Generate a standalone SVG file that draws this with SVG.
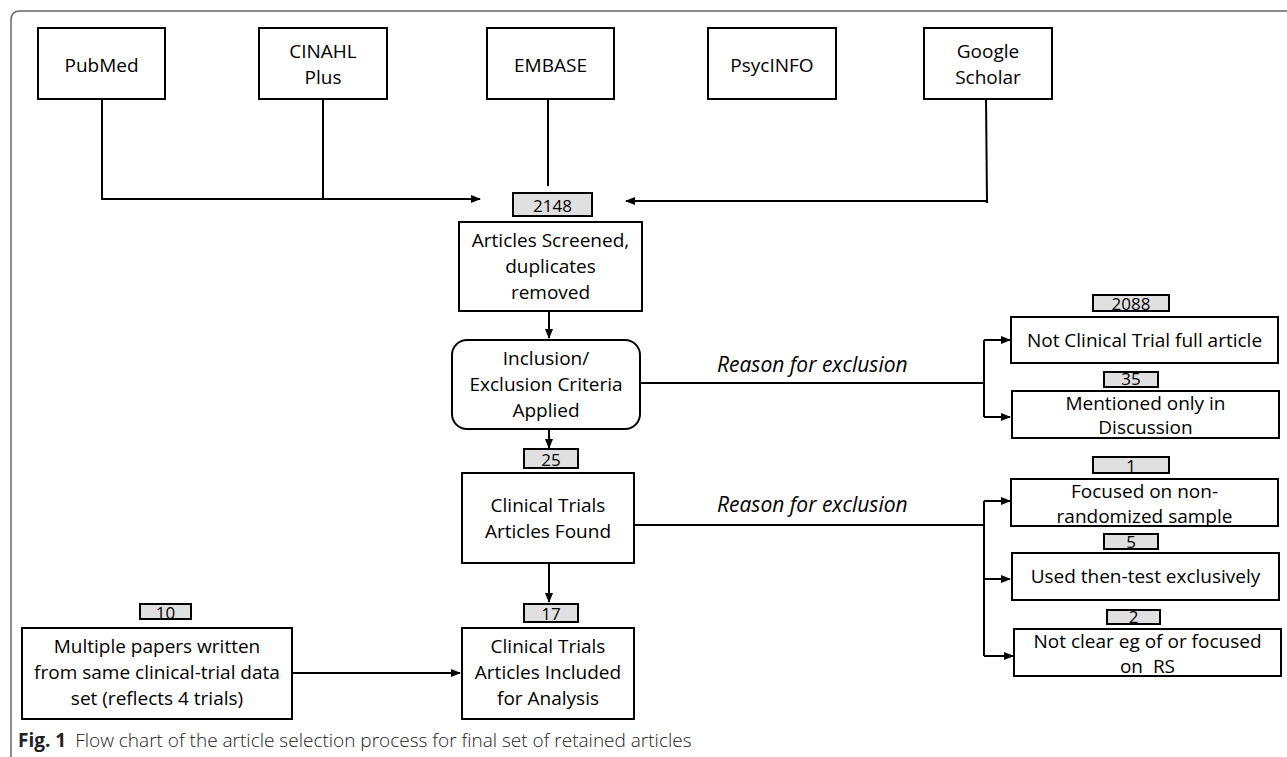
<svg xmlns="http://www.w3.org/2000/svg" width="1287" height="757" viewBox="0 0 1287 757">
<defs>
<marker id="ah" markerWidth="10" markerHeight="8" refX="9" refY="4" orient="auto" markerUnits="userSpaceOnUse">
<path d="M0,0 L10,4 L0,8 Z" fill="#000"/>
</marker>
<style>
.box{fill:#fff;stroke:#000;stroke-width:2}
.num{fill:#e0e0e0;stroke:#000;stroke-width:2}
.t{font-family:"Open Sans","Liberation Sans",sans-serif;font-size:19px;fill:#000;text-anchor:middle}
.n{font-family:"Open Sans","Liberation Sans",sans-serif;font-size:17px;fill:#000;text-anchor:middle}
.r{font-family:"Open Sans","Liberation Sans",sans-serif;font-size:21px;font-style:italic;fill:#000}
.ln{fill:none;stroke:#000;stroke-width:2}
.cap{font-family:"Open Sans","Liberation Sans",sans-serif;font-size:19px;fill:#222}
</style>
</defs>
<rect width="1287" height="757" fill="#fff"/>
<path d="M11,757 L11,20 Q11,11 20,11 L1287,11" fill="none" stroke="#666" stroke-width="1.5"/>

<g id="connectors">
<path class="ln" d="M102,99 V199 H480" marker-end="url(#ah)"/>
<path class="ln" d="M323,99 V199"/>
<path class="ln" d="M548,99 V186"/>
<path class="ln" d="M986,97 L987,203"/>
<path class="ln" d="M987,201 H626" marker-end="url(#ah)"/>
<path class="ln" d="M549,311 V338" marker-end="url(#ah)"/>
<path class="ln" d="M549,429 V448" marker-end="url(#ah)"/>
<path class="ln" d="M549,563 V602" marker-end="url(#ah)"/>
<path class="ln" d="M640,383 H984"/>
<path class="ln" d="M984,340 V417"/>
<path class="ln" d="M984,340 H1010" marker-end="url(#ah)"/>
<path class="ln" d="M984,417 H1010" marker-end="url(#ah)"/>
<path class="ln" d="M634,525 H984"/>
<path class="ln" d="M984,501 V656"/>
<path class="ln" d="M984,501 H1010" marker-end="url(#ah)"/>
<path class="ln" d="M984,579 H1010" stroke-width="3.5" marker-end="url(#ah)"/>
<path class="ln" d="M984,656 H1013" marker-end="url(#ah)"/>
<path class="ln" d="M292,673 H460" marker-end="url(#ah)"/>
<text class="r" x="717" y="372">Reason for exclusion</text>
<text class="r" x="717" y="512">Reason for exclusion</text>
</g>

<g id="pubmed"><rect class="box" x="38" y="28" width="127" height="71"/><text class="t" x="101.5" y="72">PubMed</text></g>
<g id="cinahl"><rect class="box" x="259" y="28" width="128" height="71"/><text class="t" x="323" y="58">CINAHL</text><text class="t" x="323" y="84">Plus</text></g>
<g id="embase"><rect class="box" x="487" y="28" width="127" height="71"/><text class="t" x="550.5" y="72">EMBASE</text></g>
<g id="psycinfo"><rect class="box" x="708" y="28" width="128" height="71"/><text class="t" x="772" y="72">PsycINFO</text></g>
<g id="google"><rect class="box" x="924" y="28" width="128" height="71"/><text class="t" x="988" y="58">Google</text><text class="t" x="988" y="84">Scholar</text></g>

<g id="n2148"><rect class="num" x="513" y="193" width="79" height="23"/><text class="n" x="552.5" y="212">2148</text></g>
<g id="screened"><rect class="box" x="459" y="222" width="183" height="89"/><text class="t" x="550.5" y="247">Articles Screened,</text><text class="t" x="550.5" y="273">duplicates</text><text class="t" x="550.5" y="299">removed</text></g>
<g id="criteria"><rect class="box" x="452" y="340" width="188" height="89" rx="15"/><text class="t" x="546" y="365">Inclusion/</text><text class="t" x="546" y="391">Exclusion Criteria</text><text class="t" x="546" y="417">Applied</text></g>
<g id="n25"><rect class="num" x="524" y="449" width="54" height="19"/><text class="n" x="551" y="466">25</text></g>
<g id="found"><rect class="box" x="462" y="473" width="172" height="90"/><text class="t" x="548" y="512">Clinical Trials</text><text class="t" x="548" y="538">Articles Found</text></g>
<g id="n17"><rect class="num" x="524" y="604" width="54" height="18"/><text class="n" x="551" y="620">17</text></g>
<g id="included"><rect class="box" x="462" y="628" width="172" height="91"/><text class="t" x="548" y="653">Clinical Trials</text><text class="t" x="548" y="679">Articles Included</text><text class="t" x="548" y="705">for Analysis</text></g>
<g id="n10"><rect class="num" x="140" y="604" width="51" height="15"/><text class="n" x="165.5" y="619">10</text></g>
<g id="multiple"><rect class="box" x="22" y="628" width="270" height="91"/><text class="t" x="157" y="653">Multiple papers written</text><text class="t" x="157" y="679">from same clinical-trial data</text><text class="t" x="157" y="705">set (reflects 4 trials)</text></g>

<g id="n2088"><rect class="num" x="1093" y="295" width="76" height="16"/><text class="n" x="1131" y="310">2088</text></g>
<g id="notclinical"><rect class="box" x="1011" y="317" width="267" height="46"/><text class="t" x="1144.5" y="347">Not Clinical Trial full article</text></g>
<g id="n35"><rect class="num" x="1104" y="372" width="54" height="15"/><text class="n" x="1131" y="385" font-size="16">35</text></g>
<g id="mentioned"><rect class="box" x="1012" y="391" width="267" height="47"/><text class="t" x="1145.5" y="410">Mentioned only in</text><text class="t" x="1145.5" y="434">Discussion</text></g>
<g id="n1"><rect class="num" x="1093" y="457" width="76" height="16"/><text class="n" x="1131" y="472">1</text></g>
<g id="focused"><rect class="box" x="1011" y="479" width="267" height="47"/><text class="t" x="1144.5" y="498">Focused on non-</text><text class="t" x="1144.5" y="523">randomized sample</text></g>
<g id="n5"><rect class="num" x="1104" y="534" width="54" height="15"/><text class="n" x="1131" y="548">5</text></g>
<g id="thentest"><rect class="box" x="1012" y="553" width="267" height="47"/><text class="t" x="1145.5" y="583">Used then-test exclusively</text></g>
<g id="n2"><rect class="num" x="1107" y="610" width="53" height="14"/><text class="n" x="1133.5" y="623">2</text></g>
<g id="notclear"><rect class="box" x="1014" y="629" width="267" height="47"/><text class="t" x="1147.5" y="648">Not clear eg of or focused</text><text class="t" x="1147.5" y="673" xml:space="preserve">on  RS</text></g>

<text class="cap" x="18" y="747"><tspan font-weight="bold">Fig. 1</tspan><tspan font-weight="300" dx="9">Flow chart of the article selection process for final set of retained articles</tspan></text>
</svg>
